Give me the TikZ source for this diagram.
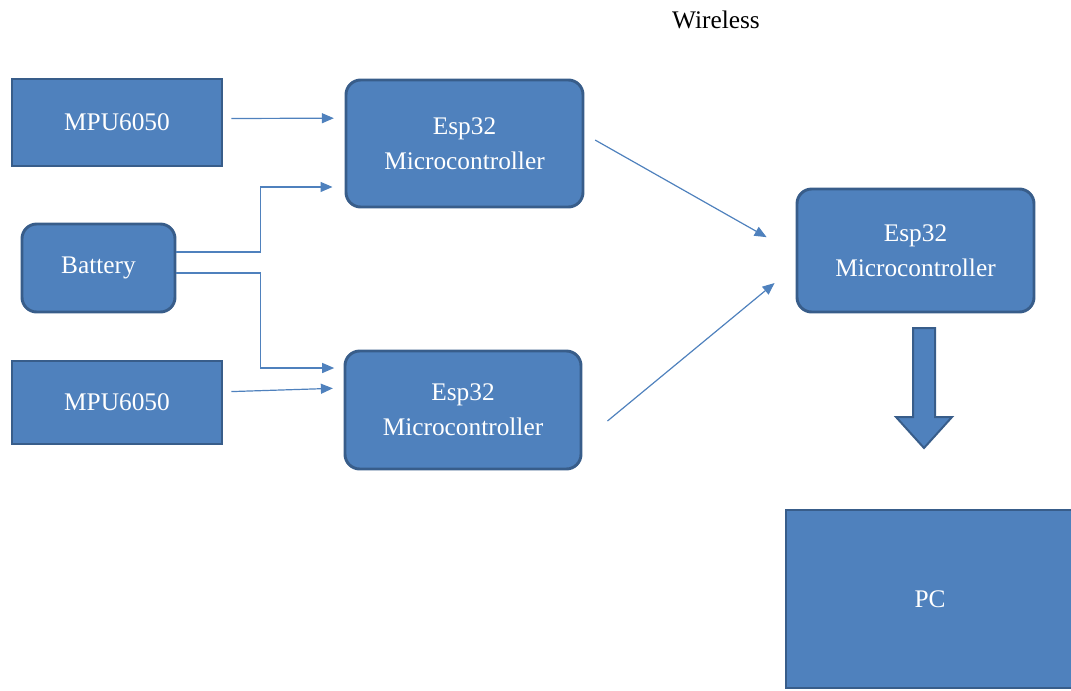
\documentclass[tikz,border=0pt]{standalone}
\usepackage{fontspec}
\setmainfont{Liberation Serif}
\usepackage{tikz}
\usetikzlibrary{arrows.meta, positioning}
\definecolor{boxblue}{HTML}{4F81BD}
\definecolor{boxedge}{HTML}{385D8A}

\begin{document}
\begin{tikzpicture}[x=0.75pt, y=-0.75pt, every node/.style={font=\fontsize{19}{26}\selectfont}]
    % Define styles
    \tikzstyle{sensorbox} = [rectangle, text centered, draw=boxedge, fill=boxblue, text=white, line width=2.2pt, inner sep=0pt]
    \tikzstyle{espbox} = [rectangle, rounded corners=11pt, align=center, draw=boxedge, fill=boxblue, text=white, line width=2.2pt, inner sep=0pt]
    \tikzstyle{arrow} = [draw=boxblue, line width=0.9pt, -{Triangle[length=9pt, width=7.5pt]}, boxblue]

    \useasboundingbox (0,0) rectangle (1071,690);

    % Label on top
    \node (wireless) at (716,20) {Wireless};

    % Sensors and battery
    \node (mpuA) [sensorbox, minimum width=157.5pt, minimum height=65.25pt] at (117,122.5) {MPU6050};
    \node (battery) [espbox, minimum width=114.75pt, minimum height=66pt] at (98.5,268) {Battery};
    \node (mpuB) [sensorbox, minimum width=157.5pt, minimum height=62.25pt] at (117,402.5) {MPU6050};

    % Transmitters
    \node (espA) [espbox, minimum width=177.75pt, minimum height=95.25pt] at (464.5,143.5) {Esp32\\Microcontroller};
    \node (espB) [espbox, minimum width=177pt, minimum height=88.5pt] at (463,410) {Esp32\\Microcontroller};

    % Receiver and PC
    \node (espC) [espbox, minimum width=177.75pt, minimum height=92.25pt] at (915.5,250.5) {Esp32\\Microcontroller};
    \node (pc) [sensorbox, minimum width=216pt, minimum height=133.5pt] at (930,599) {PC};

    % Wired links
    \draw [arrow, shorten <=6pt, shorten >=8pt] ([yshift=3pt]mpuA.east) -- ([yshift=19pt]espA.west);
    \draw [arrow, shorten >=9pt] ([yshift=12pt]battery.east) -- ++(63pt,0) |- ([yshift=-32.6pt]espA.west);
    \draw [arrow, shorten >=7pt] ([yshift=-3.75pt]battery.east) -- ++(63pt,0) |- ([yshift=31.5pt]espB.west);
    \draw [arrow, shorten <=6pt, shorten >=8pt] ([yshift=8pt]mpuB.east) -- ([yshift=16.5pt]espB.west);

    % Wireless links
    \draw [arrow] ([xshift=8pt, yshift=2.6pt]espA.east) -- ([xshift=-21.7pt, yshift=10pt]espC.west);
    \draw [arrow] ([xshift=18.75pt, yshift=-8.25pt]espB.east) -- ([xshift=-15.75pt, yshift=-24.4pt]espC.west);

    % Block arrow to the PC
    \draw [draw=boxedge, fill=boxblue, line width=1.5pt, line join=miter]
        (913,328) -- (935,328) -- (935,417) -- (952,417) -- (924,448) -- (896,417) -- (913,417) -- cycle;
\end{tikzpicture}
\end{document}
